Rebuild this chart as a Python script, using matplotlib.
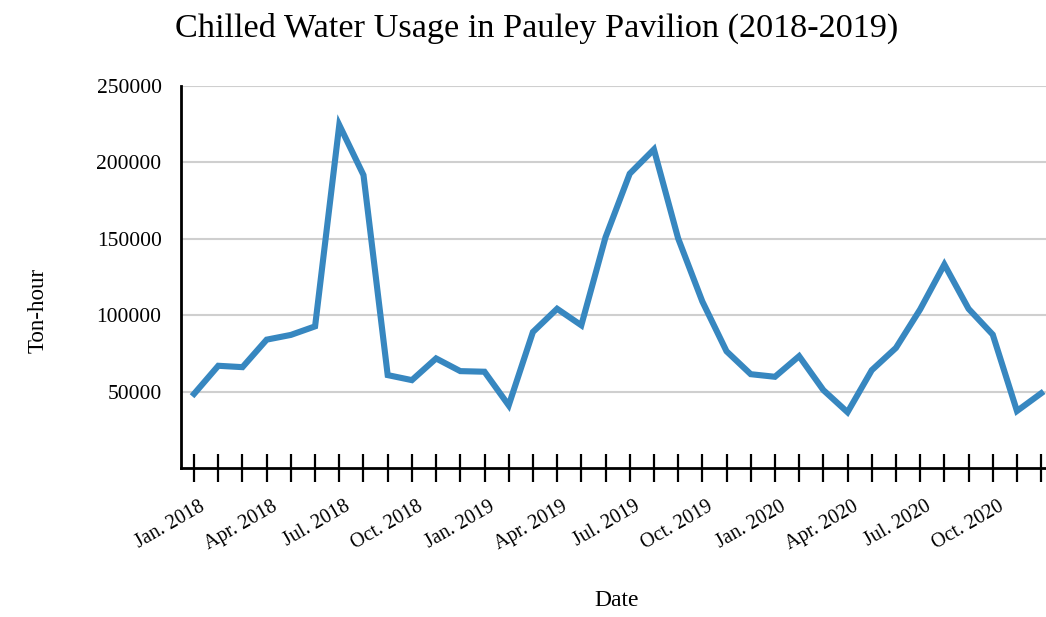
import numpy as np
import matplotlib.pyplot as plt
from matplotlib.transforms import ScaledTranslation

# Monthly chilled water usage, Jan 2018 - Dec 2020 (ton-hour)
months = ['Jan.', 'Feb.', 'Mar.', 'Apr.', 'May', 'Jun.',
          'Jul.', 'Aug.', 'Sep.', 'Oct.', 'Nov.', 'Dec.']
years = [2018, 2019, 2020]
usage_2018 = [48500, 66900, 66000, 84000, 87100, 92700,
              224500, 191700, 60800, 57500, 71700, 63400]
usage_2019 = [63000, 41000, 89000, 104200, 93400, 151000,
              192600, 208500, 150300, 109000, 76400, 61400]
usage_2020 = [59700, 73200, 51000, 36500, 64000, 78600,
              103800, 133200, 104200, 87300, 37300, 48900]
y_ticks = [50000, 100000, 150000, 200000, 250000]

usage = usage_2018 + usage_2019 + usage_2020
labels = [f'{m} {y}' for y in years for m in months]
x = np.arange(len(usage))

plt.rcParams['font.family'] = ['Liberation Serif', 'DejaVu Serif']

fig = plt.figure(figsize=(10.46, 6.17), dpi=100)
ax = fig.add_axes([181 / 1046, 1 - 468 / 617, 1 - 181 / 1046, (468 - 86) / 617])

ax.plot(x, usage, color='#3787c0', linewidth=4.4, solid_joinstyle='miter')

ax.set_xlim(-0.54, 35.2)
ax.set_ylim(0, 250000)
ax.set_yticks(y_ticks)
ax.set_yticklabels([str(v) for v in y_ticks], fontsize=15.5)
ax.tick_params(axis='y', length=0, pad=14)
ax.yaxis.grid(True, color='#cfcfcf', linewidth=1.5)
ax.set_axisbelow(True)

# every month gets a tick, every third month a label
ax.set_xticks(x)
ax.set_xticklabels([lab if i % 3 == 0 else '' for i, lab in enumerate(labels)],
                   rotation=30, ha='right', fontsize=14.5)
ax.tick_params(axis='x', direction='inout', length=20, width=1.6, pad=11)
offset = ScaledTranslation(14 / 100, 0, fig.dpi_scale_trans)
for lab in ax.get_xticklabels():
    lab.set_transform(lab.get_transform() + offset)

for side in ('top', 'right'):
    ax.spines[side].set_visible(False)
for side in ('left', 'bottom'):
    ax.spines[side].set_linewidth(2)
    ax.spines[side].set_color('black')

fig.text(537 / 1046, 1 - 28 / 617, 'Chilled Water Usage in Pauley Pavilion (2018-2019)',
         ha='center', va='center', fontsize=24.7)
fig.text(617 / 1046, 1 - 601 / 617, 'Date', ha='center', va='center', fontsize=17)
fig.text(38 / 1046, 1 - 310 / 617, 'Ton-hour', ha='center', va='center',
         rotation=90, fontsize=16.5)

fig.savefig('out.png', dpi=100)
